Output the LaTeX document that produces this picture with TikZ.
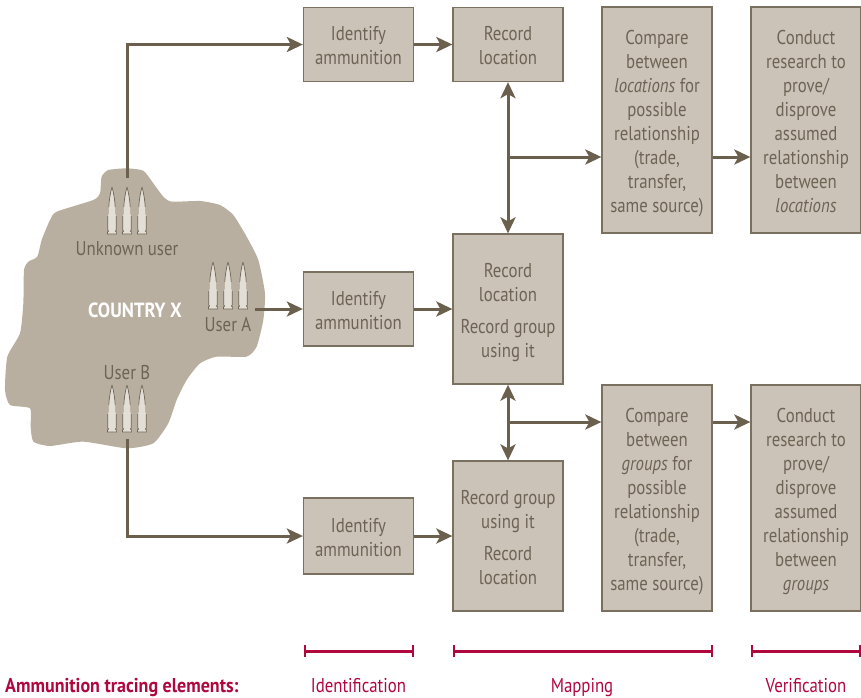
\documentclass[tikz,border=0pt]{standalone}
\usepackage{fontspec}
\setmainfont[FakeStretch=0.84]{PT Sans}
\newfontfamily\boldf[FakeStretch=0.9]{PT Sans}
\newcommand{\topstr}{\rule{0pt}{22pt}}
\newcommand{\botstr}{\rule[-6pt]{0pt}{0pt}}
\usetikzlibrary{arrows.meta}
\definecolor{boxfill}{HTML}{CBC3B7}
\definecolor{boxline}{HTML}{7A7060}
\definecolor{blobfill}{HTML}{B9AFA0}
\definecolor{arrowc}{HTML}{6B5F4D}
\definecolor{txt}{HTML}{6E6455}
\definecolor{crim}{HTML}{B0073F}
\definecolor{shell}{HTML}{E3DFD6}
\tikzset{
  x=1pt,y=-1pt,
  stepbox/.style={draw=boxline,line width=1.3pt,fill=boxfill,inner sep=0pt,align=center,
    text=txt,font=\fontsize{20}{24}\selectfont,minimum width=#1},
  stepbox/.default=110pt,
  lbl/.style={text=txt,font=\fontsize{20}{24}\selectfont,inner sep=0pt},
  conn/.style={draw=arrowc,line width=3pt,-{Stealth[length=16pt,width=15pt,inset=4pt]}},
  dbl/.style={draw=arrowc,line width=3pt,{Stealth[length=16pt,width=15pt,inset=4pt]}-{Stealth[length=16pt,width=15pt,inset=4pt]}},
  barl/.style={draw=crim,line width=3pt},
  barend/.style={draw=crim,line width=2pt},
  crl/.style={text=crim,font=\fontsize{20}{24}\selectfont,inner sep=0pt,anchor=base},
  pics/bullet/.style={code={
    \path[fill=shell] (0,0) .. controls (1.5,5) and (3,14) .. (3.2,20) -- (3.2,27) -- (4.2,29) -- (4.2,43) -- (-4.2,43) -- (-4.2,29) -- (-3.2,27) -- (-3.2,20) .. controls (-3,14) and (-1.5,5) .. (0,0) -- cycle;
    \path[draw=txt,line width=.7pt] (0,0) .. controls (1.5,5) and (3,14) .. (3.2,20) (0,0) .. controls (-1.5,5) and (-3,14) .. (-3.2,20);
    \path[draw=txt,line width=.7pt,fill=shell] (-4.2,29) -- (-4.2,43) -- (-3.4,44) -- (-4.6,45) -- (-4.6,47) -- (4.6,47) -- (4.6,45) -- (3.4,44) -- (4.2,43) -- (4.2,29);
  }}
}
\begin{document}
\begin{tikzpicture}
\useasboundingbox (0,0) rectangle (861,697);
% country
\begin{scope}[shift={(0,160)},x=0.3333pt,y=-0.3333pt]
\fill[blobfill] plot[smooth cycle,tension=0.35] coordinates {
(305,50)(325,30)(380,25)(430,32)(460,70)(490,110)(515,125)(600,123)(660,135)(700,165)(740,230)(775,300)(795,400)(790,480)(770,560)(740,590)(650,590)(600,610)(560,660)(530,720)(505,790)(460,850)(380,865)(250,845)(150,858)(100,845)(92,800)(90,745)(30,735)(15,690)(22,590)(60,520)(70,430)(72,330)(85,305)(112,290)(125,240)(150,180)(170,155)(280,120)(300,100)};
\end{scope}
% bullets
\foreach \bx/\by in {112/187,127/187,142/187,213/262,228/262,243/262,112/385,127/385,142/385}
  \pic at (\bx,\by) {bullet};
\node[lbl] (uu) at (127,249) {Unknown user};
\node[lbl] (ua) at (228,325) {User A};
\node[lbl] (ub) at (127,373) {User B};
\node[inner sep=0pt,text=white,font=\boldf\fontsize{20.5}{24}\selectfont\bfseries] (cx) at (135,310) {COUNTRY X};
% boxes
\node[stepbox=110pt,minimum height=74pt] (i1) at (358.5,44.5) {\topstr Identify\\\botstr ammunition};
\node[stepbox=110pt,minimum height=74pt] (r1) at (508,44.5) {\topstr Record\\\botstr location};
\node[stepbox=110pt,minimum height=226pt] (c1) at (657,120) {\topstr Compare\\between\\\textit{locations} for\\possible\\relationship\\(trade,\\transfer,\\\botstr same source)};
\node[stepbox=110pt,minimum height=226pt] (v1) at (806,120) {\topstr Conduct\\research to\\prove/\\disprove\\assumed\\relationship\\between\\\botstr\textit{locations}};
\node[stepbox=110pt,minimum height=74pt] (i2) at (358.5,309) {\topstr Identify\\\botstr ammunition};
\node[stepbox=110pt,minimum height=150pt] (r2) at (508,309) {\topstr Record\\location\\[8pt]Record group\\\botstr using it};
\node[stepbox=110pt,minimum height=76pt] (i3) at (358.5,536) {\topstr Identify\\\botstr ammunition};
\node[stepbox=110pt,minimum height=150pt] (r3) at (508,536) {\topstr Record group\\using it\\[8pt]Record\\\botstr location};
\node[stepbox=110pt,minimum height=226pt] (c2) at (657,498) {\topstr Compare\\between\\\textit{groups} for\\possible\\relationship\\(trade,\\transfer,\\\botstr same source)};
\node[stepbox=110pt,minimum height=226pt] (v2) at (806,498) {\topstr Conduct\\research to\\prove/\\disprove\\assumed\\relationship\\between\\\botstr\textit{groups}};
% connectors
\coordinate (su) at (127,178);
\coordinate (sa) at (255,309);
\coordinate (sb) at (127,439);
\draw[conn] (su) |- (i1.west);
\draw[conn] (sa) -- (i2.west);
\draw[conn] (sb) |- (i3.west);
\draw[conn] (i1.east) -- (r1.west);
\draw[conn] (i2.east) -- (r2.west);
\draw[conn] (i3.east) -- (r3.west);
\draw[dbl] (r1.south) -- (r2.north);
\draw[dbl] (r2.south) -- (r3.north);
\coordinate (j1) at (508,157);
\coordinate (j2) at (508,422);
\draw[conn] (j1) -- (j1-|c1.west);
\draw[conn] (j2) -- (j2-|c2.west);
\draw[conn] (c1.east|-j1) -- (j1-|v1.west);
\draw[conn] (c2.east|-j2) -- (j2-|v2.west);
% bars
\foreach \a/\b/\n in {304.5/413/a,453.5/712/b,751.5/860/c}{
  \coordinate (bl\n) at (\a,651);
  \coordinate (br\n) at (\b,651);
  \draw[barl] (bl\n) -- (br\n);
  \draw[barend] ([yshift=6pt]bl\n) -- ([yshift=-6pt]bl\n);
  \draw[barend] ([yshift=6pt]br\n) -- ([yshift=-6pt]br\n);
}
\node[crl] (l1) at (358.5,692) {Identification};
\node[crl] (l2) at (582,692) {Mapping};
\node[crl] (l3) at (806,692) {Verification};
\node[crl,anchor=base west,font=\boldf\fontsize{20}{24}\selectfont\bfseries] (l0) at (5,692) {Ammunition tracing elements:};
\end{tikzpicture}
\end{document}
